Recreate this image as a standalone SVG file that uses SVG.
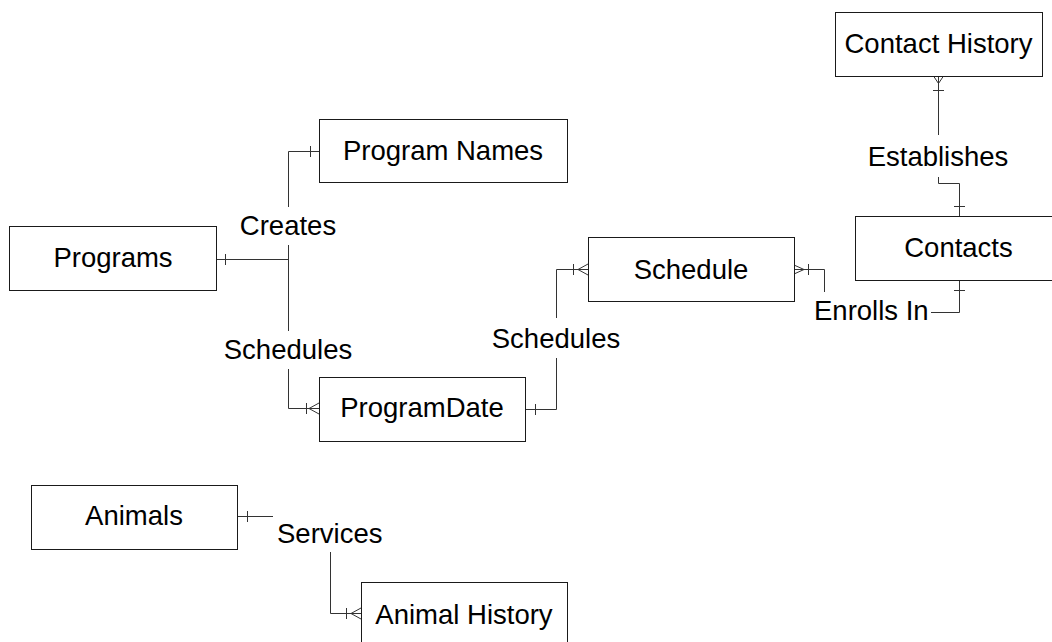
<svg xmlns="http://www.w3.org/2000/svg" width="1052" height="642" viewBox="0 0 1052 642">
<style>
.box{fill:#fff;stroke:#1a1a1a;stroke-width:1}
.t{font-family:"Liberation Sans",Arial,sans-serif;font-size:27.5px;fill:#000;text-anchor:middle}
.l{font-family:"Liberation Sans",Arial,sans-serif;font-size:27.5px;fill:#000}
.c{fill:none;stroke:#333;stroke-width:1}
</style>
<rect width="1052" height="642" fill="#fff"/>
<g id="connectors">
  <!-- Programs - Program Names / ProgramDate -->
  <path class="c" d="M216.5,259.5 H288.5 M288.5,207 V151.5 H319.5 M288.5,245 V331 M288.5,369 V408.5 H319.5"/>
  <path class="c" d="M225.5,254 V265 M310.5,146 V157 M306.5,403 V414 M319,403 L309,408.5 L319,414"/>
  <text class="l" x="288" y="235" text-anchor="middle">Creates</text>
  <text class="l" x="288" y="359" text-anchor="middle">Schedules</text>
  <!-- ProgramDate - Schedule -->
  <path class="c" d="M525.5,409.5 H556.5 V358 M556.5,318 V269.5 H588.5"/>
  <path class="c" d="M535.5,404 V415 M573.5,264 V275 M588,264 L578,269.5 L588,275"/>
  <text class="l" x="556" y="348" text-anchor="middle">Schedules</text>
  <!-- Schedule - Contacts -->
  <path class="c" d="M794.5,269.5 H824.5 V292 M931,312.5 H959.5 V280.5"/>
  <path class="c" d="M794,265 L804,269.5 L794,274 M808.5,264 V275 M954,290.5 H965"/>
  <text class="l" x="814" y="320">Enrolls In</text>
  <!-- Contacts - Contact History -->
  <path class="c" d="M959.5,216.5 V183.5 H938.5 V177 M938.5,135 V76.5"/>
  <path class="c" d="M933.5,76 L938.5,83.5 L943.5,76 M933,90.5 H944 M954,206.5 H965"/>
  <text class="l" x="938" y="166" text-anchor="middle">Establishes</text>
  <!-- Animals - Animal History -->
  <path class="c" d="M237.5,516.5 H273 M330.5,552 V613.5 H361"/>
  <path class="c" d="M247.5,511 V522 M346.5,608 V619 M361,608 L351,613.5 L361,619"/>
  <text class="l" x="277" y="543">Services</text>
</g>
<g id="node-programs"><rect class="box" x="9.5" y="226.5" width="207" height="64"/><text class="t" x="113" y="267">Programs</text></g>
<g id="node-program-names"><rect class="box" x="319.5" y="119.5" width="248" height="63"/><text class="t" x="443" y="160">Program Names</text></g>
<g id="node-programdate"><rect class="box" x="319.5" y="377.5" width="206" height="64"/><text class="t" x="422" y="417">ProgramDate</text></g>
<g id="node-schedule"><rect class="box" x="588.5" y="237.5" width="206" height="64"/><text class="t" x="691" y="279">Schedule</text></g>
<g id="node-contact-history"><rect class="box" x="835.5" y="12.5" width="207" height="64"/><text class="t" x="938.5" y="53">Contact History</text></g>
<g id="node-contacts"><rect class="box" x="855.5" y="216.5" width="207" height="64"/><text class="t" x="958.5" y="257">Contacts</text></g>
<g id="node-animals"><rect class="box" x="31.5" y="485.5" width="206" height="64"/><text class="t" x="134" y="525">Animals</text></g>
<g id="node-animal-history"><rect class="box" x="361.5" y="582.5" width="206" height="64"/><text class="t" x="464" y="624">Animal History</text></g>
</svg>
